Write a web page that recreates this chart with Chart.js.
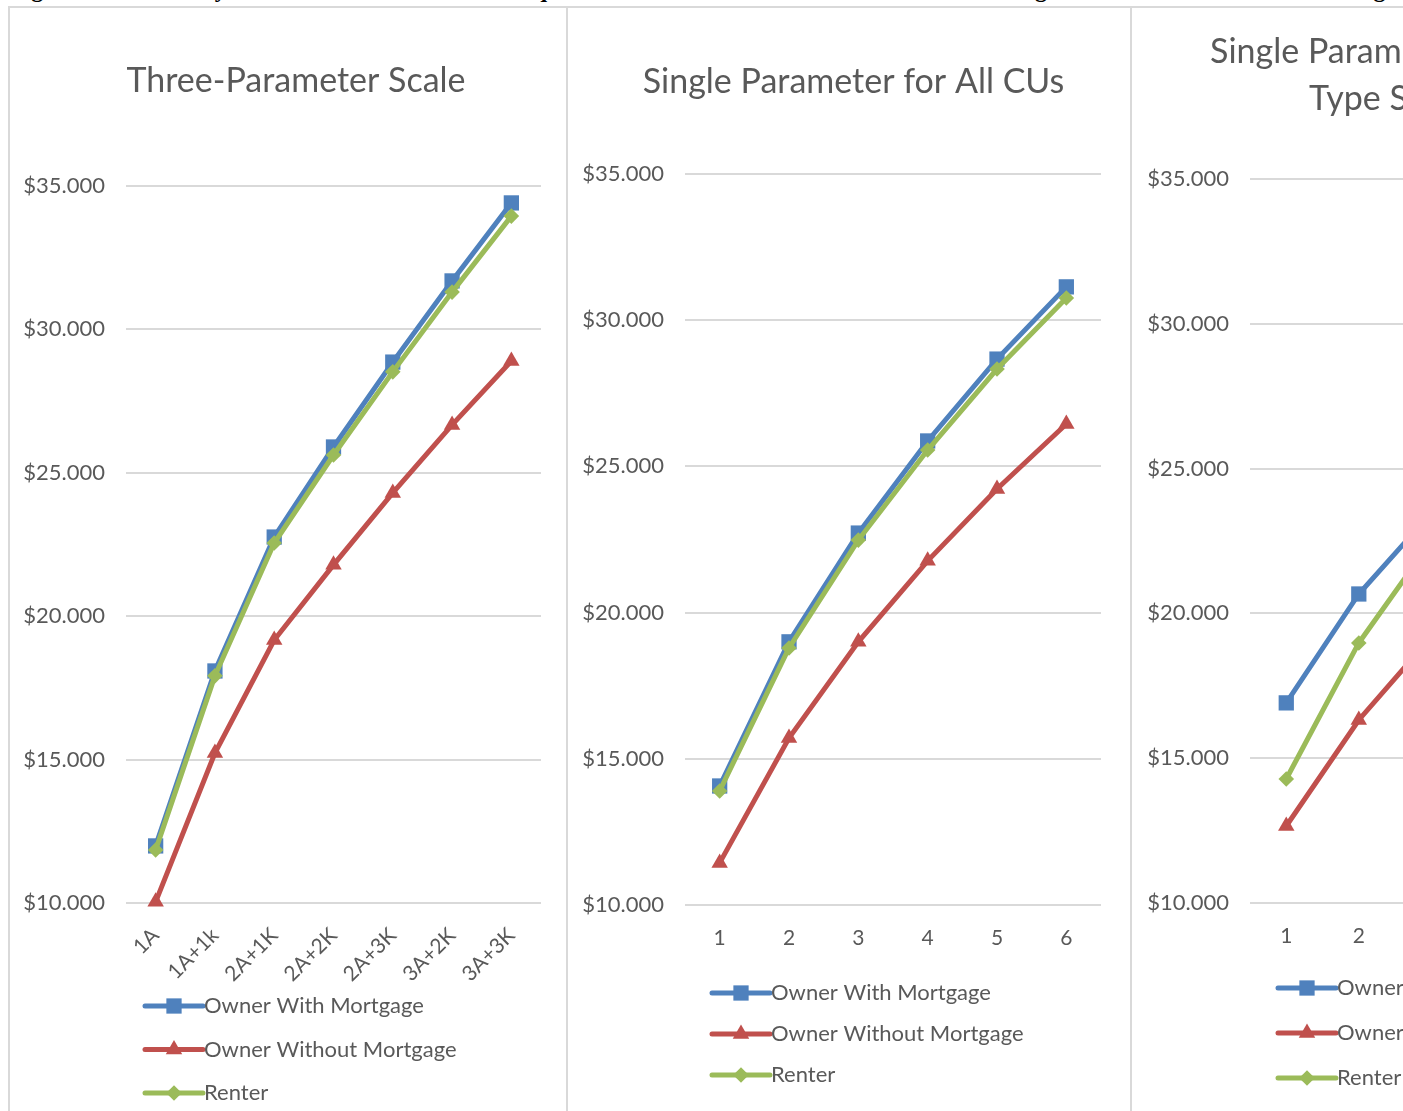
<!DOCTYPE html>
<html>
<head>
<meta charset="utf-8">
<script src="https://cdn.jsdelivr.net/npm/chart.js@4.4.1/dist/chart.umd.min.js"></script>
<style>
  html, body { margin: 0; padding: 0; background: #fff; overflow: hidden; width: 1403px; height: 1111px; }
  .caption { position: absolute; left: 10px; top: -24px; line-height: 24px; font: bold 24px "Liberation Serif", serif; white-space: nowrap; color: #000; }
  .box { position: absolute; top: 6px; height: 1200px; border: 2px solid #d9d9d9; box-sizing: border-box; }
  .plot { position: absolute; top: 8px; }
</style>
</head>
<body>
<div class="caption">Figure 3. CE Poverty Thresholds Based on Three Equivalence Scales: Three-Parameter Scale vs. Single Parameter for All CUs vs. Single Co</div>
<div class="box" style="left:8px;width:560px"></div>
<div class="box" style="left:566px;width:566px"></div>
<div class="box" style="left:1130px;width:600px"></div>
<canvas id="threeParam" class="plot" style="left:10px" width="556" height="1103"></canvas>
<canvas id="allCUs" class="plot" style="left:569px" width="560" height="1103"></canvas>
<canvas id="byTenure" class="plot" style="left:1133px" width="563" height="1103"></canvas>
<script>
  const tenures = ["Owner With Mortgage", "Owner Without Mortgage", "Renter"];
  const colors = ["#4f81bd", "#c0504d", "#9bbb59"];
  const markers = ["rect", "triangle", "rectRot"];

  const threeParamLabels = ["1A", "1A+1k", "2A+1K", "2A+2K", "2A+3K", "3A+2K", "3A+3K"];
  const threeOwnerMort = [11990, 18090, 22760, 25900, 28860, 31690, 34410];
  const threeOwnerNoMort = [10040, 15230, 19170, 21790, 24300, 26670, 28900];
  const threeRenter = [11850, 17920, 22550, 25620, 28520, 31300, 33950];

  const cuSizeLabels = ["1", "2", "3", "4", "5", "6"];
  const allOwnerMort = [14070, 19000, 22720, 25870, 28670, 31140];
  const allOwnerNoMort = [11440, 15710, 19000, 21770, 24230, 26450];
  const allRenter = [13900, 18790, 22480, 25560, 28330, 30760];

  const tenureOwnerMort = [16910, 20670, 23470, 25900, 28000, 29900];
  const tenureOwnerNoMort = [12660, 16320, 19190, 21600, 23700, 25600];
  const tenureRenter = [14280, 18980, 22500, 25500, 28100, 30400];

  const TEXT = "#595959";
  const FONT = "Lato";

  function dollars(v) {
    return "$" + String(v).replace(/\B(?=(\d{3})+(?!\d))/g, ".");
  }

  function drawMarker(ctx, style, x, y, r) {
    ctx.beginPath();
    if (style === "rect") {
      const s = r * Math.SQRT1_2;
      ctx.rect(x - s, y - s, 2 * s, 2 * s);
    } else if (style === "triangle") {
      ctx.moveTo(x, y - r);
      ctx.lineTo(x + r * 0.866, y + r * 0.5);
      ctx.lineTo(x - r * 0.866, y + r * 0.5);
      ctx.closePath();
    } else {
      ctx.moveTo(x, y - r);
      ctx.lineTo(x + r, y);
      ctx.lineTo(x, y + r);
      ctx.lineTo(x - r, y);
      ctx.closePath();
    }
    ctx.fill();
  }

  // legend stacked one item per row, like the original; also nudges the title
  const stackLegend = {
    id: "stackLegend",
    afterLayout(chart, args, opts) {
      const t = chart.titleBlock;
      if (t && opts.titleShift) {
        t.left += opts.titleShift;
        t.right += opts.titleShift;
      }
    },
    afterDraw(chart, args, opts) {
      const ctx = chart.ctx;
      ctx.save();
      chart.data.datasets.forEach((ds, i) => {
        const y = opts.y + i * opts.gap;
        ctx.strokeStyle = ds.borderColor;
        ctx.fillStyle = ds.borderColor;
        ctx.lineWidth = 5;
        ctx.lineCap = "round";
        ctx.beginPath();
        ctx.moveTo(opts.x, y);
        ctx.lineTo(opts.x + 58, y);
        ctx.stroke();
        drawMarker(ctx, ds.pointStyle, opts.x + 29, y, ds.pointRadius);
        ctx.fillStyle = TEXT;
        ctx.font = "22px " + FONT;
        ctx.textBaseline = "middle";
        ctx.fillText(ds.label, opts.x + 59, y);
      });
      ctx.restore();
    },
  };

  function makeDatasets(series) {
    const radii = [10.8, 9.5, 7.8];
    const order = [2, 1, 0];
    return series.map((data, i) => ({
      label: tenures[i],
      data,
      borderColor: colors[i],
      backgroundColor: colors[i],
      pointBackgroundColor: colors[i],
      pointBorderColor: colors[i],
      pointBorderWidth: 0,
      pointStyle: markers[i],
      pointRadius: radii[i],
      borderWidth: 5,
      tension: 0,
      fill: false,
      clip: false,
      order: order[i],
    }));
  }

  function renderChart(id, labels, series, cfg) {
    const ctx = document.getElementById(id).getContext("2d");
    return new Chart(ctx, {
      type: "line",
      data: { labels, datasets: makeDatasets(series) },
      plugins: [stackLegend],
      options: {
        responsive: false,
        animation: false,
        layout: { padding: { left: 0, right: cfg.padRight, top: 0, bottom: cfg.padBottom } },
        scales: {
          x: {
            offset: true,
            grid: { display: false, drawTicks: false },
            border: { display: false },
            ticks: {
              color: TEXT,
              font: { family: FONT, size: 21 },
              padding: cfg.xPad,
              maxRotation: cfg.rotate,
              minRotation: cfg.rotate,
              autoSkip: false,
            },
            afterFit: (scale) => { scale.height = 90; },
          },
          y: {
            min: 10000,
            max: 35000,
            grid: { color: "#d9d9d9", lineWidth: 2, drawTicks: false },
            border: { display: false },
            ticks: {
              stepSize: 5000,
              color: TEXT,
              font: { family: FONT, size: 22 },
              padding: 21,
              callback: (v) => dollars(v),
            },
            afterFit: (scale) => { scale.width = cfg.yWidth; },
          },
        },
        plugins: {
          legend: { display: false },
          tooltip: { enabled: false },
          title: {
            display: true,
            text: cfg.title,
            color: TEXT,
            font: { family: FONT, size: 34, weight: "normal", lineHeight: cfg.titleLH },
            padding: cfg.titlePad,
          },
          stackLegend: cfg.legend,
        },
      },
    });
  }

  renderChart("threeParam", threeParamLabels, [threeOwnerMort, threeOwnerNoMort, threeRenter], {
    title: "Three-Parameter Scale",
    titleLH: 1.2,
    titlePad: { top: 52.6, bottom: 84.6 },
    padRight: 25,
    padBottom: 118,
    yWidth: 116,
    xPad: 20,
    rotate: 45,
    legend: { x: 135, y: 998, gap: 43.5, titleShift: 20.5 },
  });

  renderChart("allCUs", cuSizeLabels, [allOwnerMort, allOwnerNoMort, allRenter], {
    title: "Single Parameter for All CUs",
    titleLH: 1.2,
    titlePad: { top: 53.6, bottom: 71.6 },
    padRight: 28,
    padBottom: 116,
    yWidth: 116,
    xPad: 21,
    rotate: 0,
    legend: { x: 143, y: 985, gap: 41, titleShift: 18.5 },
  });

  renderChart("byTenure", cuSizeLabels, [tenureOwnerMort, tenureOwnerNoMort, tenureRenter], {
    title: ["Single Parameter by Tenure", "Type Scale\u2002\u2002\u2002"],
    titleLH: 1.382,
    titlePad: { top: 20.5, bottom: 56.5 },
    padRight: 2,
    padBottom: 118,
    yWidth: 117,
    xPad: 21,
    rotate: 0,
    legend: { x: 145, y: 980, gap: 45, titleShift: 0 },
  });
</script>
</body>
</html>
